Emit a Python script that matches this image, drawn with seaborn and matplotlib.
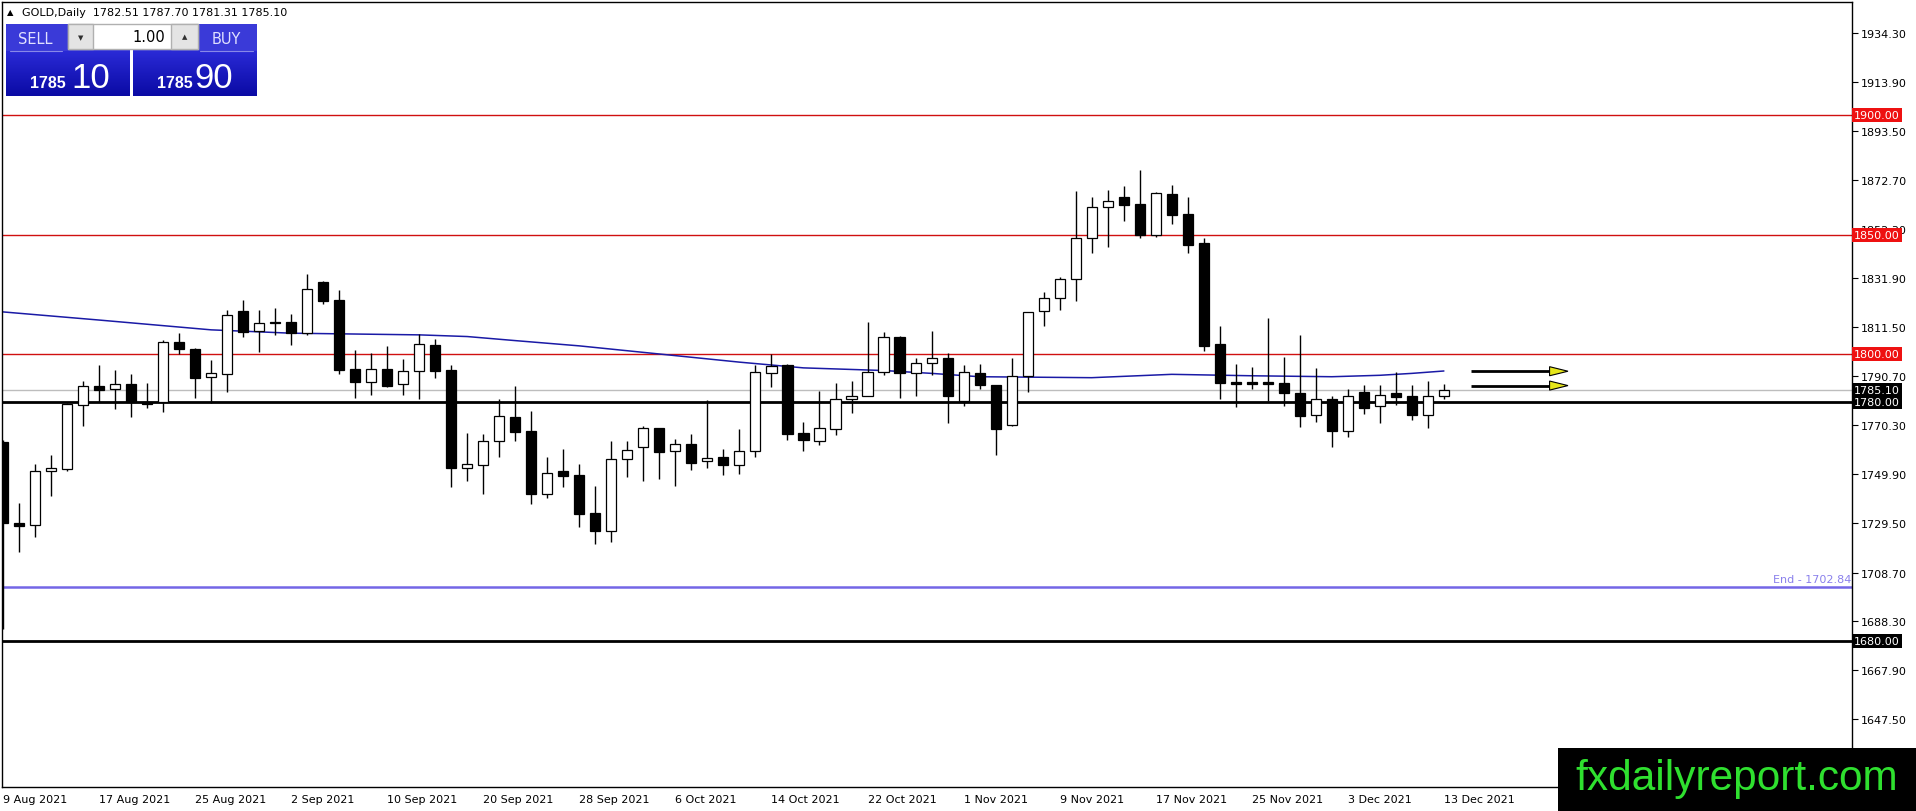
import numpy as np
import pandas as pd
import seaborn as sns
import matplotlib.pyplot as plt
from matplotlib.patches import Rectangle, Polygon
from matplotlib.colors import LinearSegmentedColormap

# daily bars, 9 Aug 2021 .. 13 Dec 2021
opens = [1763.3, 1729.5, 1728.5, 1751.1, 1752.2, 1778.7, 1786.6, 1785.4, 1787.5, 1780.0,
         1780.1, 1805.0, 1802.2, 1790.4, 1791.6, 1818.1, 1809.6, 1813.5, 1813.5, 1808.8,
         1830.2, 1822.7, 1793.9, 1788.6, 1793.9, 1787.7, 1792.8, 1803.9, 1793.5, 1752.6,
         1753.9, 1763.6, 1773.8, 1767.9, 1741.7, 1751.2, 1749.6, 1733.7, 1725.9, 1756.4,
         1761.4, 1769.1, 1759.4, 1762.4, 1755.3, 1756.9, 1753.6, 1759.4, 1792.3, 1795.4,
         1767.1, 1763.9, 1768.9, 1781.2, 1782.4, 1792.4, 1807.1, 1792.0, 1796.2, 1798.3,
         1780.3, 1792.0, 1787.1, 1770.3, 1791.0, 1817.9, 1823.4, 1831.3, 1848.7, 1861.7,
         1865.9, 1862.7, 1849.9, 1866.9, 1858.5, 1846.3, 1804.3, 1788.3, 1788.3, 1788.3,
         1787.8, 1783.6, 1774.4, 1781.1, 1768.0, 1784.1, 1778.2, 1783.6, 1782.4, 1774.7,
         1782.51]
highs = [1764.0, 1737.8, 1754.2, 1757.9, 1779.7, 1788.9, 1795.3, 1793.5, 1791.8, 1788.0,
         1806.1, 1808.9, 1802.5, 1797.5, 1818.5, 1822.7, 1818.5, 1819.4, 1816.9, 1833.6,
         1830.5, 1826.8, 1801.8, 1800.6, 1803.5, 1798.0, 1808.5, 1806.4, 1795.5, 1767.1,
         1766.6, 1781.3, 1786.8, 1776.3, 1757.1, 1760.4, 1754.2, 1745.0, 1763.8, 1763.8,
         1770.0, 1769.3, 1764.6, 1766.7, 1780.8, 1760.3, 1768.8, 1795.5, 1800.0, 1796.0,
         1771.7, 1784.7, 1787.9, 1788.7, 1813.5, 1809.5, 1807.6, 1798.5, 1809.8, 1800.4,
         1795.5, 1795.9, 1787.3, 1798.5, 1817.8, 1826.0, 1832.4, 1868.1, 1865.6, 1868.5,
         1870.2, 1876.9, 1867.8, 1870.6, 1865.6, 1848.7, 1811.9, 1795.9, 1794.5, 1815.2,
         1798.9, 1808.1, 1794.3, 1782.7, 1785.5, 1787.1, 1787.0, 1792.6, 1787.1, 1788.8,
         1787.70]
lows = [1685.0, 1717.2, 1723.4, 1740.9, 1751.0, 1770.2, 1780.2, 1776.9, 1773.9, 1777.7,
        1775.8, 1800.1, 1781.9, 1779.5, 1784.4, 1807.0, 1801.1, 1807.9, 1803.9, 1808.2,
        1820.9, 1791.9, 1781.9, 1783.1, 1786.5, 1783.1, 1781.3, 1790.2, 1744.7, 1746.8,
        1741.7, 1757.2, 1763.9, 1737.2, 1739.8, 1744.3, 1727.7, 1720.7, 1721.7, 1748.7,
        1747.2, 1748.0, 1745.1, 1751.4, 1752.5, 1749.7, 1750.1, 1757.2, 1786.1, 1764.2,
        1759.7, 1762.1, 1766.4, 1775.6, 1782.4, 1791.5, 1781.8, 1782.7, 1791.5, 1771.3,
        1778.5, 1785.6, 1757.9, 1770.1, 1784.3, 1811.6, 1818.3, 1822.1, 1842.2, 1844.8,
        1855.7, 1848.8, 1849.0, 1854.3, 1842.2, 1801.5, 1781.4, 1777.8, 1785.5, 1780.3,
        1778.5, 1769.4, 1771.5, 1761.3, 1765.6, 1775.0, 1771.3, 1778.9, 1772.6, 1769.2,
        1781.31]
closes = [1729.3, 1728.4, 1751.1, 1752.3, 1779.1, 1786.6, 1785.2, 1787.5, 1780.1, 1779.4,
          1805.0, 1802.4, 1790.2, 1792.1, 1816.2, 1809.5, 1813.0, 1813.0, 1808.9, 1827.2,
          1822.4, 1793.6, 1788.6, 1793.7, 1786.8, 1792.9, 1804.2, 1793.0, 1752.5, 1754.0,
          1763.6, 1774.2, 1767.7, 1741.7, 1750.3, 1749.3, 1733.2, 1725.9, 1756.1, 1759.9,
          1769.1, 1759.3, 1762.4, 1754.7, 1756.5, 1753.5, 1759.4, 1792.5, 1795.0, 1766.8,
          1764.2, 1769.1, 1781.2, 1782.4, 1792.5, 1807.1, 1792.0, 1796.2, 1798.3, 1782.7,
          1792.4, 1787.3, 1768.8, 1791.0, 1817.6, 1823.5, 1831.5, 1848.7, 1861.7, 1864.2,
          1862.4, 1849.9, 1867.3, 1858.2, 1845.6, 1803.6, 1788.1, 1787.7, 1787.7, 1787.4,
          1783.9, 1774.0, 1781.1, 1768.0, 1782.7, 1777.6, 1783.1, 1782.2, 1774.7, 1782.4,
          1785.10]

# moving average line, read at a few bars
ma_bar = [0, 6, 13, 18, 26, 29, 32, 36, 41, 46, 50, 55, 58, 61, 68, 73, 78, 83, 86, 88, 90]
ma_val = [1817.7, 1814.3, 1810.2, 1808.8, 1808.1, 1807.4, 1805.7, 1803.5, 1800.1, 1796.7,
          1794.3, 1793.2, 1792.0, 1790.6, 1790.2, 1791.6, 1791.0, 1790.6, 1791.2, 1792.0, 1793.0]

date_idx = [0, 6, 12, 18, 24, 30, 36, 42, 48, 54, 60, 66, 72, 78, 84, 90]
date_labels = ['9 Aug 2021', '17 Aug 2021', '25 Aug 2021', '2 Sep 2021', '10 Sep 2021',
               '20 Sep 2021', '28 Sep 2021', '6 Oct 2021', '14 Oct 2021', '22 Oct 2021',
               '1 Nov 2021', '9 Nov 2021', '17 Nov 2021', '25 Nov 2021', '3 Dec 2021',
               '13 Dec 2021']
price_ticks = [1934.30, 1913.90, 1893.50, 1872.70, 1852.30, 1831.90, 1811.50, 1790.70,
               1770.30, 1749.90, 1729.50, 1708.70, 1688.30, 1667.90, 1647.50]

red_levels = [1900.0, 1850.0, 1800.0]
black_levels = [1780.0, 1680.0]
bid_price = 1785.10
end_level = 1702.84
arrow_levels = [1792.9, 1786.9]

sns.set_style('white')
plt.rcParams['font.family'] = ['DejaVu Sans']

fig = plt.figure(figsize=(19.16, 8.12), dpi=100, facecolor='white')
ax = fig.add_axes([2 / 1916, 24 / 812, 1850 / 1916, 785 / 812])

df = pd.DataFrame({'open': opens, 'high': highs, 'low': lows, 'close': closes})
df['x'] = np.arange(len(df))
df['bull'] = df['close'] >= df['open']

# wicks then bodies
ax.vlines(df['x'], df['low'], df['high'], color='black', lw=1.0, zorder=3)
body_lo = df[['open', 'close']].min(axis=1)
body_h = (df['close'] - df['open']).abs().clip(lower=0.3)
ax.bar(df['x'], body_h, bottom=body_lo, width=0.63,
       color=np.where(df['bull'], 'white', 'black'), edgecolor='black', linewidth=0.9, zorder=4)

sns.lineplot(x=ma_bar, y=ma_val, ax=ax, color='#1a1aa6', lw=1.1, zorder=2)

for lv in red_levels:
    ax.axhline(lv, color='#d01010', lw=1.0, zorder=1)
for lv in black_levels:
    ax.axhline(lv, color='black', lw=2.0, zorder=1)
ax.axhline(bid_price, color='#bdbdbd', lw=1.0, zorder=1)
ax.axhline(end_level, color='#7466e6', lw=1.8, zorder=1)
ax.text(0.9995, end_level + 1.0, 'End - 1702.84', transform=ax.get_yaxis_transform(),
        ha='right', va='bottom', fontsize=8, color='#8a80ec')

# arrows
for lv in arrow_levels:
    ax.plot([91.7, 96.7], [lv, lv], color='black', lw=2.0, zorder=5, solid_capstyle='butt')
    ax.add_patch(Polygon([[96.6, lv + 1.9], [97.75, lv], [96.6, lv - 1.9]], closed=True,
                         facecolor='#e6e61a', edgecolor='black', lw=0.8, zorder=6))

ax.set_xlim(-0.06, 115.49)
ax.set_ylim(1619.08, 1947.26)
ax.set_xlabel('')
ax.set_ylabel('')

ax.yaxis.tick_right()
ax.set_yticks(price_ticks)
ax.set_yticklabels(['%.2f' % v for v in price_ticks])
ax.set_xticks(date_idx)
ax.set_xticklabels(date_labels, ha='left')
ax.tick_params(axis='y', direction='out', length=4, width=0.8, labelsize=8, pad=2, colors='black')
ax.tick_params(axis='x', direction='out', length=4, width=0.8, labelsize=8, pad=1, colors='black')
for lab in ax.get_xticklabels():
    lab.set_x(0)
for sp in ax.spines.values():
    sp.set_color('black')
    sp.set_linewidth(1.0)

# price label boxes on the right scale
def price_box(val, fc):
    ax.text(1.0012, val, '%.2f' % val, transform=ax.get_yaxis_transform(), ha='left', va='center',
            fontsize=8, color='white', zorder=10, clip_on=False,
            bbox=dict(boxstyle='square,pad=0.18', fc=fc, ec='none'))

for lv in red_levels:
    price_box(lv, '#ee1111')
price_box(bid_price, 'black')
for lv in black_levels:
    price_box(lv, 'black')

# overlay in pixel coordinates for the trading panel and watermark
ov = fig.add_axes([0, 0, 1, 1], zorder=20)
ov.set_xlim(0, 1916)
ov.set_ylim(812, 0)
ov.axis('off')
ov.patch.set_alpha(0)

ov.text(7, 13, '\u25b2', fontsize=6, va='center', ha='left', color='black')
ov.text(22, 13, 'GOLD,Daily  1782.51 1787.70 1781.31 1785.10', fontsize=8, va='center', ha='left',
        color='black')

grad = LinearSegmentedColormap.from_list('btn', ['#2a2ad6', '#0a0aa4'])
g = np.linspace(0, 1, 64).reshape(-1, 1)
for x0 in [6, 133]:
    ov.add_patch(Rectangle((x0, 25), 124, 27, fc='#3a3ad8', ec='none', zorder=1))
    ov.imshow(g, cmap=grad, extent=(x0, x0 + 124, 97, 52), aspect='auto', zorder=1)
    ov.plot([x0 + 4, x0 + 56] if x0 == 6 else [x0 + 67, x0 + 120], [52, 52], color='#8888e8', lw=0.8, zorder=2)

ov.add_patch(Rectangle((68, 25), 130, 25, fc='white', ec='#b0b0b0', lw=1, zorder=3))
ov.add_patch(Rectangle((68, 25), 25, 25, fc='#e4e4e4', ec='#b0b0b0', lw=1, zorder=3))
ov.add_patch(Rectangle((171, 25), 27, 25, fc='#e4e4e4', ec='#b0b0b0', lw=1, zorder=3))
ov.text(80.5, 38, '\u25bc', fontsize=5, ha='center', va='center', color='#303030', zorder=4)
ov.text(184.5, 37, '\u25b2', fontsize=5, ha='center', va='center', color='#303030', zorder=4)
ov.text(165, 37.5, '1.00', fontsize=10.5, ha='right', va='center', color='black', zorder=4)
ov.text(35, 39, 'SELL', fontsize=10.5, ha='center', va='center', color='#e0e0ff', zorder=4)
ov.text(226, 39, 'BUY', fontsize=10.5, ha='center', va='center', color='#e0e0ff', zorder=4)
for xs, xb, big in [(30, 71, '10'), (157, 194, '90')]:
    ov.text(xs, 88, '1785', fontsize=11.5, fontweight='bold', family='Liberation Sans',
            ha='left', va='baseline', color='white', zorder=4)
    ov.text(xb, 88, big, fontsize=25, family='Liberation Sans',
            ha='left', va='baseline', color='white', zorder=4)

ov.add_patch(Rectangle((1558, 749), 358, 63, fc='black', ec='none', zorder=5))
ov.text(1575, 790, 'fxdailyreport.com', fontsize=30.5, family='Liberation Sans',
        ha='left', va='baseline', color='#2fe02f', zorder=6)

fig.savefig('out.png', dpi=100, facecolor='white')
